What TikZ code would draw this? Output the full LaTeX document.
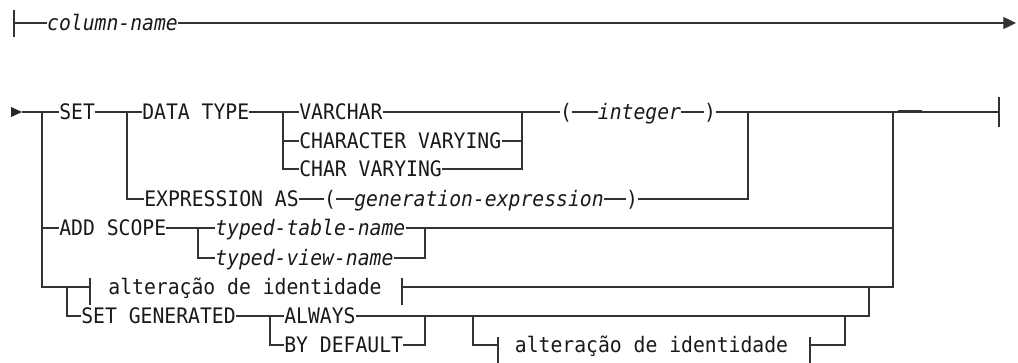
\documentclass[tikz,border=0pt]{standalone}
\usepackage{fontspec}
\newfontfamily\rrfont[FakeStretch=0.925]{DejaVu Sans Mono}
\usetikzlibrary{arrows.meta}
\begin{document}
\begin{tikzpicture}[x=0.75pt,y=-0.75pt,
  rail/.style={draw=black!80, line width=0.95pt},
  kw/.style={inner sep=0pt, text height=11.6pt, text depth=0pt,
    font={\rrfont\fontsize{16pt}{18pt}\selectfont}, text=black!90},
  var/.style={kw, font={\rrfont\itshape\fontsize{16pt}{18pt}\selectfont}},
]
\useasboundingbox (0,0) rectangle (1018,362);

% ---- first fragment: column-name ----
\node[var] (colname) at (112.5,23) {column-name};
\coordinate (s0) at (14,23);
\coordinate (e0) at (1016,23);
\draw[rail] (s0) ++(0,-13) -- ++(0,27);
\draw[rail] (s0) -- (colname);
\draw[rail, -{Triangle[length=9.5pt,width=9pt]}] (colname) -- (e0);

% ---- text items ----
\node[kw,anchor=west] (set) at (59,112) {SET};
\node[kw,anchor=west] (datatype) at (142,112) {DATA TYPE};
\node[kw,anchor=west] (varchar) at (299,112) {VARCHAR};
\node[kw,anchor=west] (charvar) at (299,141) {CHARACTER VARYING};
\node[kw,anchor=west] (charv) at (299,169) {CHAR VARYING};
\node[kw] (lp1) at (566,112) {(};
\node[var] (int) at (639.5,112) {integer};
\node[kw] (rp1) at (710,112) {)};
\node[kw,anchor=west] (expr) at (144,199) {EXPRESSION AS};
\node[kw] (lp2) at (330,199) {(};
\node[var] (genexpr) at (479,199) {generation-expression};
\node[kw] (rp2) at (632,199) {)};
\node[kw,anchor=west] (addscope) at (59,228) {ADD SCOPE};
\node[var,anchor=west] (ttn) at (215,228) {typed-table-name};
\node[var,anchor=west] (tvn) at (215,258) {typed-view-name};
\node[kw] (alt1) at (245,287) {alteração de identidade};
\node[kw,anchor=west] (setgen) at (81,316) {SET GENERATED};
\node[kw,anchor=west] (always) at (284,316) {ALWAYS};
\node[kw,anchor=west] (bydef) at (284,345) {BY DEFAULT};
\node[kw] (alt2) at (651.5,345) {alteração de identidade};

% ---- junction points ----
\coordinate (s1) at (22,112);
\coordinate (a1) at (42,112);  \coordinate (a1b) at (42,228); \coordinate (a1c) at (42,287);
\coordinate (b1) at (127,112); \coordinate (b1b) at (127,199);
\coordinate (c1) at (283,112); \coordinate (c1b) at (283,141); \coordinate (c1c) at (283,169);
\coordinate (d1) at (522,112); \coordinate (d1b) at (522,141); \coordinate (d1c) at (522,169);
\coordinate (e1) at (748,112); \coordinate (e1b) at (748,199);
\coordinate (f1) at (893,112); \coordinate (f1b) at (893,228); \coordinate (f1c) at (893,287);
\coordinate (end1) at (999,112);
\coordinate (g1) at (198,228); \coordinate (g1b) at (198,258);
\coordinate (h1) at (425,228); \coordinate (h1b) at (425,258);
\coordinate (k1) at (67,287);  \coordinate (k1b) at (67,316);
\coordinate (bar1) at (90,287); \coordinate (bar1r) at (402,287);
\coordinate (m1) at (270,316); \coordinate (m1b) at (270,345);
\coordinate (n1) at (425,316); \coordinate (n1b) at (425,345);
\coordinate (p1) at (473,316); \coordinate (p1b) at (473,345);
\coordinate (bar2) at (498,345); \coordinate (bar2r) at (810,345);
\coordinate (q1) at (845,345); \coordinate (q1b) at (845,316);
\coordinate (r1) at (869,316); \coordinate (r1b) at (869,287);

% ---- start arrow and main line ----
\fill[black!85] (s1) -- ++(-11,-5) -- ++(0,10) -- cycle;
\draw[rail] (s1) -- (set) -- (datatype) -- (varchar) -- (lp1) -- (int) -- (rp1) -- (end1);
\draw[rail] (end1) ++(0,-15) -- ++(0,30);
\draw[rail, line width=1.3pt] (898,111) -- (922,111);

% ---- data type choices ----
\draw[rail] (c1b) -- (charvar) -- (d1b);
\draw[rail] (c1) -- (c1c) -- (charv) -- (d1c) -- (d1);

% ---- expression branch ----
\draw[rail] (b1) -- (b1b) -- (expr) -- (lp2) -- (genexpr) -- (rp2) -- (e1b) -- (e1);

% ---- add scope branch ----
\draw[rail] (a1) -- (a1c) -- (bar1);
\draw[rail] (a1b) -- (addscope) -- (ttn) -- (f1b);
\draw[rail] (g1) -- (g1b) -- (tvn) -- (h1b) -- (h1);

% ---- identity alteration ----
\draw[rail] (bar1) ++(0,-9) -- ++(0,27);
\draw[rail] (bar1r) ++(0,-9) -- ++(0,27);
\draw[rail] (bar1r) -- (f1c) -- (f1);

% ---- set generated branch ----
\draw[rail] (k1) -- (k1b) -- (setgen) -- (always) -- (r1) -- (r1b);
\draw[rail] (m1) -- (m1b) -- (bydef) -- (n1b) -- (n1);
\draw[rail] (p1) -- (p1b) -- (bar2);
\draw[rail] (bar2) ++(0,-8) -- ++(0,26);
\draw[rail] (bar2r) ++(0,-8) -- ++(0,26);
\draw[rail] (bar2r) -- (q1) -- (q1b);
\end{tikzpicture}
\end{document}
